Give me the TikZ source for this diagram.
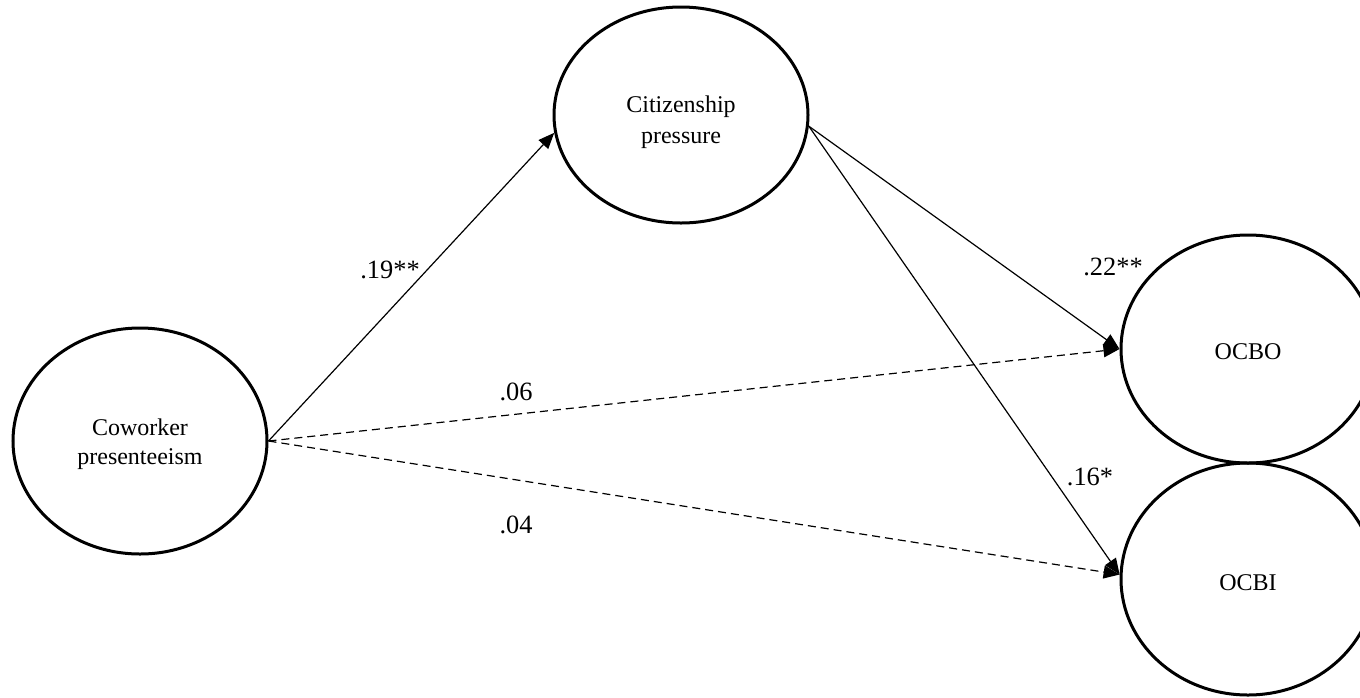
\documentclass[tikz,border=0pt]{standalone}
\usepackage{fontspec}
\setmainfont{Liberation Serif}
\usetikzlibrary{shapes.geometric,arrows.meta}
\begin{document}
\begin{tikzpicture}[x=0.5pt,y=-0.5pt,
  latent/.style={draw,ellipse,line width=1.5pt,inner sep=0pt,
    minimum width=127pt,minimum height=113pt},
  ltext/.style={align=center,inner sep=0pt,font=\fontsize{12}{14.5}\selectfont},
  path/.style={line width=0.6pt,-{Triangle[length=8pt,width=6.5pt]}},
  npath/.style={path,dashed,dash pattern=on 4pt off 2.5pt},
  coef/.style={font=\fontsize{13.2}{15.5}\selectfont,inner sep=0pt}]
\useasboundingbox (0,0) rectangle (1360,697);
\node[latent] (cw) at (140,441) {};
\node[latent,minimum height=108pt] (cp) at (681,115) {};
\node[latent,minimum height=114pt] (ocbo) at (1248,349) {};
\node[latent,minimum height=116pt] (ocbi) at (1248,579) {};
\node[ltext] (cwt) at (140,444) {Coworker\\presenteeism};
\node[ltext,font=\fontsize{12}{15.5}\selectfont] (cpt) at (681,122) {Citizenship\\pressure};
\node[ltext] (ocbot) at (1248,352) {OCBO};
\node[ltext] (ocbit) at (1248,583) {OCBI};
\draw[path] (cw.east) -- (cp.188);
\draw[path] (cp.-5) -- (ocbo.west);
\draw[path] (cp.-5) -- (ocbi.178);
\draw[npath] (cw.east) -- (ocbo.west);
\draw[npath] (cw.east) -- (ocbi.178);
\node[coef] (l1) at (390,270) {.19**};
\node[coef] (l2) at (1113,267) {.22**};
\node[coef] (l3) at (516,392) {.06};
\node[coef] (l4) at (1090,477) {.16*};
\node[coef] (l5) at (516,525) {.04};
\end{tikzpicture}
\end{document}
